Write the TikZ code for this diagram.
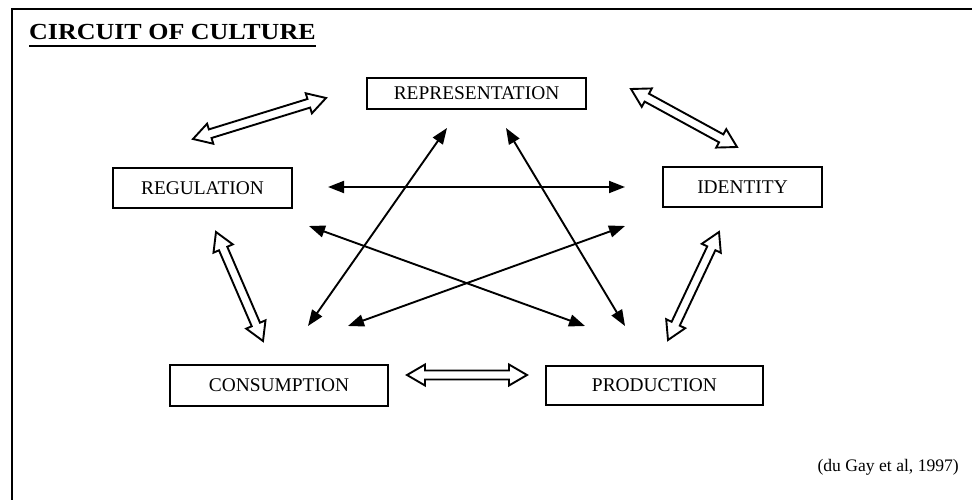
\documentclass[tikz,border=0pt]{standalone}
\usepackage{fontspec}
\setmainfont{Liberation Serif}
\usetikzlibrary{calc,arrows.meta}
\def\ahl{18pt}
\def\ahw{10.5pt}
\def\asw{4.5pt}
\tikzstyle{box}=[draw,line width=2pt,inner sep=0pt,font=\fontsize{19.4}{23}\selectfont]
\tikzstyle{link}=[line width=1.9pt,{Triangle[length=16pt,width=12pt]}-{Triangle[length=16pt,width=12pt]}]
\tikzstyle{hollow}=[draw,line width=1.9pt,fill=white]
\newcommand{\newBox}[4]{\node[box,#3](#1) at (#4){#2};}
\newcommand{\newLink}[2]{\draw[link] (#1) -- (#2);}
\newcommand{\newFlow}[2]{%
  \path ($(#1)!\ahl!(#2)$) coordinate (fp) ($(#2)!\ahl!(#1)$) coordinate (fq);
  \draw[hollow] (#1) -- ($(fp)!\ahw!90:(#2)$) -- ($(fp)!\asw!90:(#2)$)
    -- ($(fq)!\asw!-90:(#1)$) -- ($(fq)!\ahw!-90:(#1)$) -- (#2)
    -- ($(fq)!\ahw!90:(#1)$) -- ($(fq)!\asw!90:(#1)$)
    -- ($(fp)!\asw!-90:(#2)$) -- ($(fp)!\ahw!-90:(#2)$) -- cycle;}

\begin{document}
\begin{tikzpicture}[x=1pt,y=-1pt]
  \useasboundingbox (0,0) rectangle (972,500);
  \clip (0,0) rectangle (972,500);
  \draw[line width=2.4pt] (12,9) rectangle (985,515);
  % title and source
  \node[anchor=base west,inner sep=0pt,font=\fontsize{23}{27}\selectfont\bfseries] (title) at (29,40) {\scalebox{1.13}[1]{CIRCUIT OF CULTURE}};
  \draw[line width=2.4pt] ($(title.base west)+(0,6)$) -- ($(title.base east)+(0,6)$);
  \node[anchor=east,inner sep=0pt,font=\fontsize{17.6}{21}\selectfont] (source) at (959,467) {(du Gay et al, 1997)};
  % the five moments
  \newBox{rep}{REPRESENTATION}{minimum width=219pt,minimum height=31pt}{476.5,93.5}
  \newBox{reg}{REGULATION}{minimum width=179pt,minimum height=40pt}{202.5,188}
  \newBox{id}{IDENTITY}{minimum width=159pt,minimum height=40pt}{742.5,187}
  \newBox{cons}{CONSUMPTION}{minimum width=218pt,minimum height=41pt}{279,385.5}
  \newBox{prod}{PRODUCTION}{minimum width=217pt,minimum height=39pt}{654.5,385.5}
  % arrow ends
  \coordinate (reg-e) at (328,187);
  \coordinate (id-w) at (625,187);
  \coordinate (rep-sw) at (447,128);
  \coordinate (rep-se) at (506,128);
  \coordinate (reg-se) at (309,226);
  \coordinate (id-sw) at (625,226);
  \coordinate (cons-ne) at (308,326);
  \coordinate (cons-n) at (348,326);
  \coordinate (prod-n) at (585,326);
  \coordinate (prod-nw) at (625,326);
  \coordinate (rep-w) at (326,98);
  \coordinate (reg-ne) at (193,139);
  \coordinate (rep-e) at (631,89);
  \coordinate (id-n) at (737,147);
  \coordinate (reg-s) at (216,232);
  \coordinate (cons-nw) at (263,341);
  \coordinate (cons-e) at (407,375);
  \coordinate (prod-w) at (527,375);
  \coordinate (id-s) at (719,232);
  \coordinate (prod-ne) at (668,340);
  % links across the circuit
  \newLink{reg-e}{id-w}
  \newLink{rep-sw}{cons-ne}
  \newLink{rep-se}{prod-nw}
  \newLink{reg-se}{prod-n}
  \newLink{id-sw}{cons-n}
  % links round the circuit
  \newFlow{reg-ne}{rep-w}
  \newFlow{rep-e}{id-n}
  \newFlow{reg-s}{cons-nw}
  \newFlow{cons-e}{prod-w}
  \newFlow{id-s}{prod-ne}
\end{tikzpicture}
\end{document}
